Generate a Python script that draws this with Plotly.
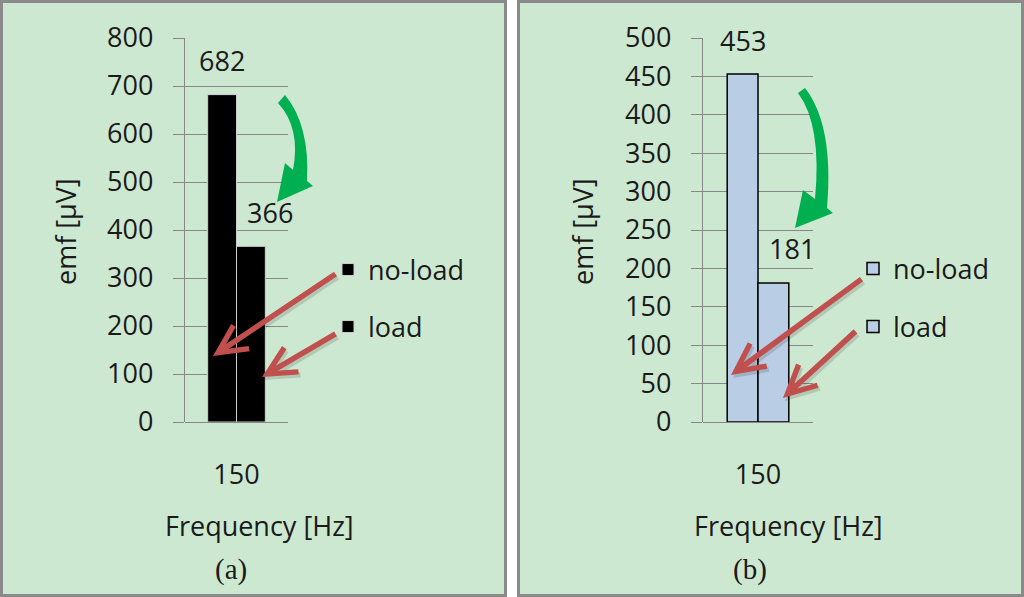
import plotly.graph_objects as go

# ---------------- data ----------------
categories = ["150"]
series_names = ["no-load", "load"]
emf_a = [682, 366]
emf_b = [453, 181]
yticks_a = [0, 100, 200, 300, 400, 500, 600, 700, 800]
yticks_b = [0, 50, 100, 150, 200, 250, 300, 350, 400, 450, 500]
x_title = "Frequency [Hz]"
y_title = "emf [µV]"
panel_labels = ["(a)", "(b)"]

# ---------------- helpers ----------------
W, H = 1024, 597
def px(x):
    return x / W
def py(y):
    return 1 - y / H

FONT = "Open Sans"
FS = 27
TXT = "#1a1a1a"
GRID = "#878787"
BG = "#CDE8D0"
BLUE = "#B9CDE5"
GREEN = "#00B050"
RED = "#C0504D"
BARGAP = 0.44

fig = go.Figure()

legends = [["legend", "legend2"], ["legend3", "legend4"]]
panels = [
    dict(vals=emf_a, xa="x", ya="y", fill="black", line=dict(color="#d0d0d0", width=1)),
    dict(vals=emf_b, xa="x2", ya="y2", fill=BLUE, line=dict(color="black", width=1.5)),
]
for p, panel in enumerate(panels):
    for i, name in enumerate(series_names):
        fig.add_trace(go.Bar(
            x=categories, y=[panel["vals"][i]], name=name,
            marker=dict(color=panel["fill"], line=panel["line"]),
            xaxis=panel["xa"], yaxis=panel["ya"], legend=legends[p][i],
            hoverinfo="skip",
        ))

ydom = [py(422), py(38)]
axis_common = dict(showgrid=True, gridcolor=GRID, gridwidth=1.3, zeroline=True,
                   zerolinecolor=GRID, zerolinewidth=1.3, showline=True, linecolor=GRID,
                   linewidth=1.3, ticks="outside", ticklen=11, tickcolor=GRID, tickwidth=1.3,
                   tickfont=dict(family=FONT, size=FS, color=TXT), ticklabelstandoff=14,
                   automargin=False, fixedrange=True)
xaxis_common = dict(type="category", showgrid=False, zeroline=False, showline=False,
                    ticks="", tickfont=dict(family=FONT, size=FS, color=TXT),
                    ticklabelstandoff=34, automargin=False, fixedrange=True,
                    range=[-0.5, len(categories) - 0.5])

fig.update_layout(
    width=W, height=H,
    margin=dict(l=0, r=0, t=0, b=0),
    paper_bgcolor="white", plot_bgcolor="rgba(0,0,0,0)",
    barmode="group", bargap=BARGAP, bargroupgap=0,
    xaxis=dict(domain=[px(185), px(288)], anchor="y", **xaxis_common),
    yaxis=dict(domain=ydom, anchor="x", range=[0, 800], tickvals=yticks_a, **axis_common),
    xaxis2=dict(domain=[px(703), px(813)], anchor="y2", **xaxis_common),
    yaxis2=dict(domain=ydom, anchor="x2", range=[0, 500], tickvals=yticks_b, **axis_common),
    showlegend=True,
)

# legends (one per item to reproduce the spacing)
legend_pos = {"legend": (348, 270), "legend2": (348, 327),
              "legend3": (873, 269), "legend4": (873, 327)}
for key, (cx, cy) in legend_pos.items():
    fig.update_layout({key: dict(x=px(cx - 20), y=py(cy), xanchor="left", yanchor="middle",
                                 bgcolor="rgba(0,0,0,0)", borderwidth=0,
                                 font=dict(family=FONT, size=FS, color=TXT),
                                 itemclick=False, itemdoubleclick=False)})

# panel backgrounds
for x0, x1 in [(1.5, 505.5), (518.5, 1022.5)]:
    fig.add_shape(type="rect", xref="paper", yref="paper",
                  x0=px(x0), x1=px(x1), y0=py(595.5), y1=py(1.5),
                  fillcolor=BG, line=dict(color="#8a8a8a", width=3), layer="below")

annotations = []
# data labels
half = (1 - BARGAP) / 4
for xa, ya, vals in [("x", "y", emf_a), ("x2", "y2", emf_b)]:
    for i, v in enumerate(vals):
        annotations.append(dict(
            text=str(v), xref=xa, yref=ya, x=(-half if i == 0 else half), y=v,
            yshift=34, xshift=(0 if i == 0 else 19), showarrow=False,
            font=dict(family=FONT, size=FS, color=TXT), yanchor="middle"))

# titles
for cx, cy, t, ang, fam, size in [
    (65, 232, y_title, -90, FONT, FS), (582, 232, y_title, -90, FONT, FS),
    (259, 525, x_title, 0, FONT, FS), (788, 525, x_title, 0, FONT, FS),
    (231, 569, panel_labels[0], 0, "Liberation Serif", 29),
    (750, 569, panel_labels[1], 0, "Liberation Serif", 29)]:
    annotations.append(dict(text=t, xref="paper", yref="paper", x=px(cx), y=py(cy),
                            textangle=ang, showarrow=False,
                            font=dict(family=fam, size=size, color=TXT),
                            xanchor="center", yanchor="middle"))

# red pointer arrows (start near legend key, tip on bar)
red_arrows = [((337, 273), (213, 356)), ((337, 333), (262, 377)),
              ((863, 278), (731, 375)), ((857, 330), (783, 398))]
for (sx, sy), (tx, ty) in red_arrows:
    for col, dx, dy in [("rgba(0,0,0,0.13)", 2, 3), (RED, 0, 0)]:
        annotations.append(dict(text="", xref="paper", yref="paper",
                                x=px(tx + dx), y=py(ty + dy), ax=sx - tx, ay=sy - ty,
                                axref="pixel", ayref="pixel", showarrow=True,
                                arrowhead=5, arrowwidth=5.5, arrowsize=1.0,
                                arrowcolor=col, standoff=0, startstandoff=0))
fig.update_layout(annotations=annotations)

# green curved arrows
def path_from(cmds):
    out = []
    for c in cmds:
        op, pts = c[0], c[1:]
        coords = " ".join(f"{px(x):.5f},{py(y):.5f}" for x, y in pts)
        out.append(f"{op} {coords}")
    return " ".join(out) + " Z"

green_left = [("M", (278, 103)), ("L", (285, 95)), ("Q", (310, 125), (307, 181)),
              ("L", (313, 186)), ("L", (277, 202)), ("L", (285, 163)),
              ("L", (293, 170)), ("Q", (301, 128), (278, 103))]
green_right = [("M", (798, 93)), ("L", (805, 88)), ("Q", (834, 125), (827, 208)),
               ("L", (833, 213)), ("L", (795, 228)), ("L", (803, 190)),
               ("L", (815, 199)), ("Q", (822, 125), (798, 93))]
for g in (green_left, green_right):
    fig.add_shape(type="path", xref="paper", yref="paper", path=path_from(g),
                  fillcolor=GREEN, line=dict(width=0), layer="above")

fig.write_html("out.html", config={"displayModeBar": False},
               post_script="document.body.style.margin='0';document.body.style.overflow='hidden';")
